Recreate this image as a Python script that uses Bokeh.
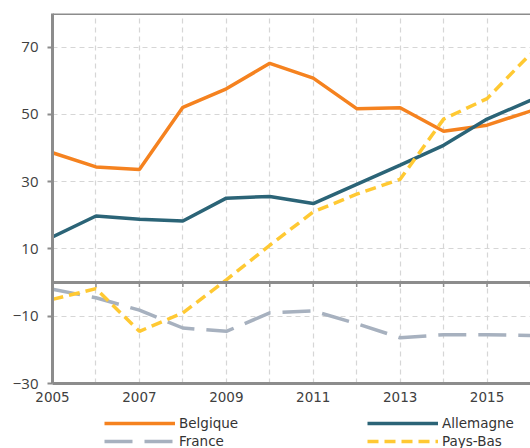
from bokeh.plotting import figure
from bokeh.layouts import column
from bokeh.models import FixedTicker, Range1d, Span, Legend, LegendItem, ColumnDataSource
from bokeh.embed import file_html
from bokeh.resources import INLINE

years = [2005, 2006, 2007, 2008, 2009, 2010, 2011, 2012, 2013, 2014, 2015, 2016]
belgique = [38.6, 34.4, 33.6, 52.1, 57.6, 65.2, 60.8, 51.7, 52.0, 45.0, 46.8, 51.0]
allemagne = [13.6, 19.8, 18.8, 18.3, 25.1, 25.6, 23.5, 29.2, 34.9, 40.8, 48.6, 54.2]
france = [-2.0, -4.5, -8.2, -13.5, -14.5, -9.0, -8.4, -12.2, -16.4, -15.5, -15.5, -15.7]
pays_bas = [-5.0, -1.8, -14.5, -9.0, 0.8, 11.1, 21.0, 26.3, 30.7, 48.6, 54.7, 68.0]
x_tick_labels = [2005, 2007, 2009, 2011, 2013, 2015]
y_tick_labels = [-30, -10, 10, 30, 50, 70]

AXIS_GRAY = "#8c8c8c"
GRID = "#d6d6d6"
TEXT = "#404040"
STYLES = {
    "Belgique": dict(line_color="#F5821F", line_width=3.5),
    "Allemagne": dict(line_color="#2B6477", line_width=3.5),
    "France": dict(line_color="#A7B1BF", line_width=3.5, line_dash="28 12"),
    "Pays-Bas": dict(line_color="#FFC933", line_width=3.5, line_dash="11 6"),
}
COLS = {"Belgique": "be", "Allemagne": "de", "France": "fr", "Pays-Bas": "nl"}

p = figure(width=530, height=408, output_backend="svg", toolbar_location=None,
           x_range=Range1d(2005, 2016), y_range=Range1d(-30, 80),
           min_border_left=52, min_border_right=0, min_border_top=13, min_border_bottom=25)
p.outline_line_color = None
p.background_fill_color = "white"

# axes
p.xaxis.ticker = FixedTicker(ticks=x_tick_labels)
p.xaxis.major_tick_line_color = None
p.xaxis.minor_tick_line_color = None
p.xaxis.axis_line_color = AXIS_GRAY
p.xaxis.axis_line_width = 3
p.xaxis.major_label_standoff = 2
p.xaxis.major_label_text_font = "DejaVu Sans"
p.xaxis.major_label_text_font_size = "13.5px"
p.xaxis.major_label_text_color = TEXT

p.yaxis.ticker = FixedTicker(ticks=y_tick_labels)
p.yaxis.minor_tick_line_color = None
p.yaxis.major_tick_in = 0
p.yaxis.major_tick_out = 5
p.yaxis.major_tick_line_color = AXIS_GRAY
p.yaxis.major_tick_line_width = 2
p.yaxis.axis_line_color = AXIS_GRAY
p.yaxis.axis_line_width = 3
p.yaxis.major_label_standoff = 9
p.yaxis.major_label_text_font = "Open Sans"
p.yaxis.major_label_text_font_size = "15px"
p.yaxis.major_label_text_color = TEXT

# grids
p.xgrid.ticker = FixedTicker(ticks=years)
for g in (p.xgrid, p.ygrid):
    g.grid_line_color = GRID
    g.grid_line_dash = "5 4"
    g.grid_line_width = 1.2

# top border and zero line
p.add_layout(Span(location=80, dimension="width", line_color=AXIS_GRAY, line_width=3))
p.add_layout(Span(location=0, dimension="width", line_color=AXIS_GRAY, line_width=3))
p.segment(x0=years, y0=[0] * len(years), x1=years, y1=[-1.3] * len(years),
          line_color=AXIS_GRAY, line_width=1.5)

src = ColumnDataSource(dict(x=years, be=belgique, de=allemagne, fr=france, nl=pays_bas))
for name, col in COLS.items():
    p.line("x", col, source=src, **STYLES[name])

# legend strip below the chart (its frame is aligned with the chart's frame)
lf = figure(width=530, height=40, output_backend="svg", toolbar_location=None,
            x_axis_type=None, y_axis_type=None, x_range=Range1d(0, 1), y_range=Range1d(0, 1),
            min_border_left=0, min_border_right=0, min_border_top=0, min_border_bottom=0)
lf.outline_line_color = None
lf.xgrid.visible = False
lf.ygrid.visible = False
# same series, outside this strip's visible range: only their legend glyphs show
lr = {name: lf.line("x", col, source=src, **STYLES[name]) for name, col in COLS.items()}

def make_legend(names, loc):
    return Legend(items=[LegendItem(label=n, renderers=[lr[n]]) for n in names],
                  location=loc, orientation="vertical",
                  glyph_width=71, glyph_height=16, label_height=16, spacing=2,
                  label_standoff=4, padding=0, margin=0,
                  border_line_color=None, background_fill_alpha=0,
                  label_text_font="DejaVu Sans", label_text_font_size="13.5px",
                  label_text_color="#333333")

lf.add_layout(make_legend(["Belgique", "France"], (52, -1)))
lf.add_layout(make_legend(["Allemagne", "Pays-Bas"], (315, -1)))

open("out.html", "w").write(file_html(column(p, lf, spacing=0), INLINE))
